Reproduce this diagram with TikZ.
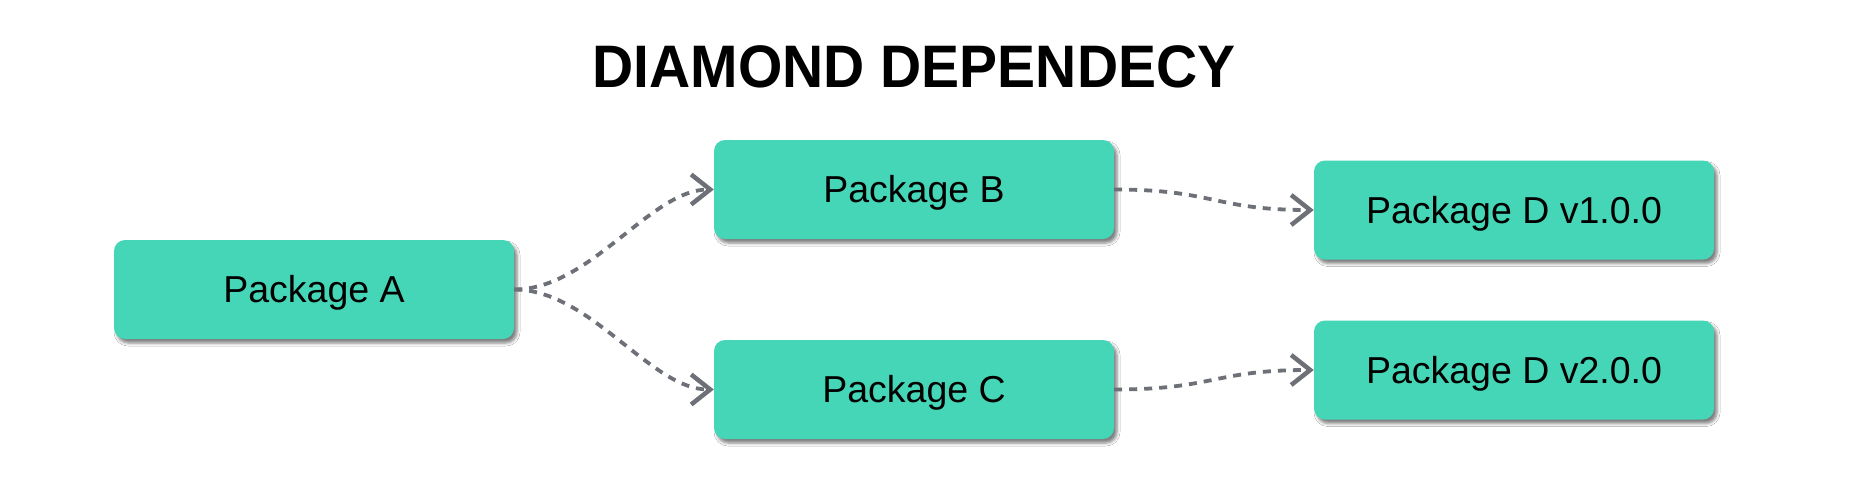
\documentclass[tikz,border=0pt]{standalone}
\usepackage{fontspec}
\setmainfont{Liberation Sans}
\usetikzlibrary{arrows.meta,shadows.blur}
\definecolor{boxfill}{HTML}{45D6B7}
\definecolor{conncol}{HTML}{6D7077}
\begin{document}
\begin{tikzpicture}[x=1pt,y=-1pt,
  pkg/.style={draw=none, fill=boxfill, rounded corners=11pt,
    minimum width=400pt, minimum height=99pt, inner sep=0pt,
    text height=26.5pt, text depth=0pt,
    font=\fontsize{37.5}{37.5}\selectfont,
    blur shadow={shadow xshift=3pt, shadow yshift=-4pt, shadow blur radius=3pt, shadow opacity=50}},
  conn/.style={draw=conncol, line width=3.8pt, dash pattern=on 8pt off 7pt,
    -{Straight Barb[length=19pt,width=30pt,line width=4.5pt]}}
]
\fill[white] (0,0) rectangle (1870,490);
\useasboundingbox (0,0) rectangle (1870,490);
\node[anchor=base] (title) at (914,87) {\scalebox{0.95}[1]{\fontsize{60}{60}\selectfont\bfseries DIAMOND DEPENDECY}};
\node[pkg] (A) at (314,289.5) {Package A};
\node[pkg] (B) at (914,189.5) {Package B};
\node[pkg] (C) at (914,389.5) {Package C};
\node[pkg] (D1) at (1514,210) {Package D v1.0.0};
\node[pkg] (D2) at (1514,370) {Package D v2.0.0};
\draw[conn] (A.east) .. controls +(76,0) and +(-63,0) .. (B.west);
\draw[conn] (A.east) .. controls +(76,0) and +(-63,0) .. (C.west);
\draw[conn] (B.east) .. controls +(100,0) and +(-100,0) .. (D1.west);
\draw[conn] (C.east) .. controls +(100,0) and +(-100,0) .. (D2.west);
\end{tikzpicture}
\end{document}
